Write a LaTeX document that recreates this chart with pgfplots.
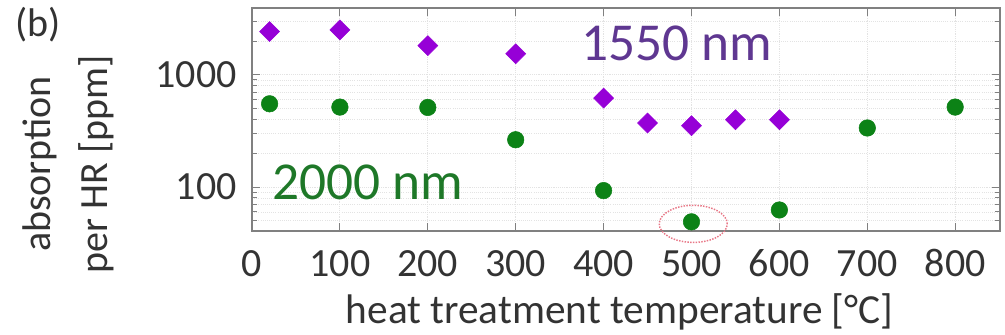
\documentclass[border=0pt]{standalone}
\usepackage{fontspec}
\setmainfont{Carlito}
\usepackage{pgfplots}
\pgfplotsset{compat=1.18}
\definecolor{dviolet}{RGB}{150,0,215}
\definecolor{dgreen}{RGB}{12,130,22}
\definecolor{txtviolet}{RGB}{95,55,145}
\definecolor{txtgreen}{RGB}{30,120,40}
\definecolor{ringred}{RGB}{232,120,135}
\begin{document}
\begin{tikzpicture}
\useasboundingbox (-189pt,-78pt) rectangle (564.75pt,173.25pt);
\begin{axis}[
  at={(0pt,0pt)}, anchor=south west,
  scale only axis, width=561pt, height=167.25pt,
  xmin=0, xmax=851, ymode=log, ymin=40.6, ymax=3940,
  xtick={0,100,...,800},
  ytick={100,1000}, yticklabels={100,1000},
  minor ytick={50,60,70,80,90,200,300,400,500,600,700,800,900,2000,3000},
  tick align=inside, major tick length=6pt, minor tick length=3.5pt,
  axis line style={draw=gray, line width=1pt},
  tick style={gray, line width=0.8pt},
  xmajorgrids, ymajorgrids, yminorgrids,
  grid style={densely dotted, gray!22, line width=0.6pt},
  minor grid style={densely dotted, gray!22, line width=0.6pt},
  /pgf/number format/assume math mode=true,
  ticklabel style={font=\fontsize{30}{36}\selectfont, text=black!80},
  xticklabel style={anchor=base, yshift=-34.5pt},
  yticklabel style={xshift=-8pt},
  clip=false,
]
\addplot[only marks, mark=square*, mark size=5.3pt, mark options={rotate=45, fill=dviolet, draw=dviolet}]
  coordinates {(20,2430) (100,2510) (200,1820) (300,1540) (400,621) (450,372) (500,352) (550,398) (600,398)};
\addplot[only marks, mark=*, mark size=6.2pt, mark options={fill=dgreen, draw=dgreen}]
  coordinates {(20,552) (100,516) (200,512) (300,264) (400,93) (500,49) (600,62.5) (700,336) (800,516)};
\draw[ringred, densely dotted, line width=1.1pt] (axis cs:502,47) ellipse [x radius=25.5pt, y radius=13.9pt];
\end{axis}
\node[font=\fontsize{30}{36}\selectfont, text=black!80] at (-160.5pt,154.5pt) {(b)};
\node[font=\fontsize{30}{43}\selectfont, text=black!80, rotate=90, align=center] at (-137.6pt,50.25pt) {absorption\\per HR [ppm]};
\node[font=\fontsize{31}{36}\selectfont, text=black!80, anchor=base] at (275.6pt,-69pt) {heat treatment temperature [\textdegree C]};
\node[font=\fontsize{40}{48}\selectfont, text=txtviolet] at (318.75pt,141pt) {1550 nm};
\node[font=\fontsize{40}{48}\selectfont, text=txtgreen] at (87pt,36.75pt) {2000 nm};
\end{tikzpicture}
\end{document}
